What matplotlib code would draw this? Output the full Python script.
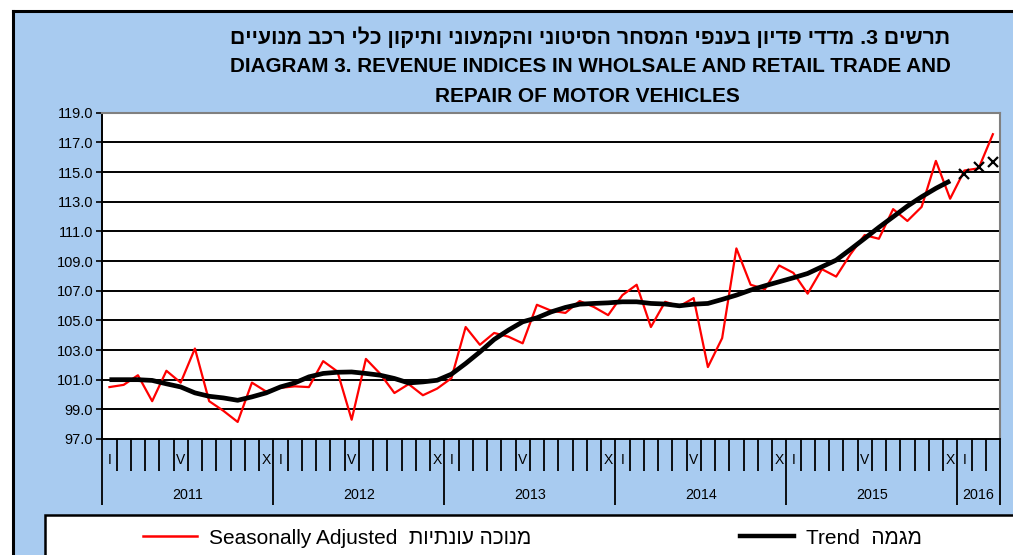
import matplotlib
matplotlib.use('Agg')
import matplotlib.pyplot as plt
import matplotlib.transforms as mtransforms
from matplotlib.patches import Rectangle
from matplotlib.lines import Line2D
import numpy as np

# ---------------- data ----------------
years = ['2011', '2012', '2013', '2014', '2015', '2016']
months_per_year = [12, 12, 12, 12, 12, 3]
month_marks = {0: 'I', 5: 'V', 11: 'X'}
y_ticks = [97, 99, 101, 103, 105, 107, 109, 111, 113, 115, 117, 119]

seasonally_adjusted = [
    100.5, 100.65, 101.3, 99.55, 101.6, 100.8, 103.1, 99.55, 98.9, 98.15, 100.8, 100.2,
    100.45, 100.55, 100.5, 102.25, 101.55, 98.3, 102.4, 101.4, 100.1, 100.7, 99.95, 100.4,
    101.1, 104.55, 103.35, 104.15, 103.9, 103.45, 106.05, 105.65, 105.5, 106.3, 105.9, 105.35,
    106.7, 107.4, 104.55, 106.25, 105.95, 106.5, 101.85, 103.8, 109.85, 107.4, 107.1, 108.7,
    108.2, 106.8, 108.45, 107.95, 109.45, 110.75, 110.5, 112.5, 111.7, 112.65, 115.75, 113.2,
    115.1, 115.25, 117.55,
]
trend = [
    101.0, 101.0, 101.0, 100.95, 100.72, 100.51, 100.11, 99.88, 99.77, 99.61, 99.84, 100.11,
    100.51, 100.78, 101.19, 101.42, 101.5, 101.52, 101.42, 101.3, 101.08, 100.78, 100.85, 100.96,
    101.37, 102.09, 102.87, 103.71, 104.34, 104.9, 105.17, 105.57, 105.87, 106.09, 106.14, 106.18,
    106.25, 106.25, 106.14, 106.1, 105.98, 106.09, 106.14, 106.41, 106.7, 107.04, 107.33, 107.6,
    107.87, 108.16, 108.61, 109.06, 109.78, 110.52, 111.27, 111.98, 112.7, 113.33, 113.9, 114.4,
]
trend_provisional = [114.84, 115.36, 115.65]

title_he = "תרשים 3. מדדי פדיון בענפי המסחר הסיטוני והקמעוני ותיקון כלי רכב מנועיים"
title_en1 = "DIAGRAM 3. REVENUE INDICES IN WHOLSALE AND RETAIL TRADE AND"
title_en2 = "REPAIR OF MOTOR VEHICLES"
label_sa = "Seasonally Adjusted  " + "מנוכה עונתיות"[::-1]
label_tr = "Trend  " + "מגמה"[::-1]

# ---------------- figure ----------------
W, H = 1013, 555
fig = plt.figure(figsize=(W / 100, H / 100), dpi=100, facecolor='white')
FAM = ['Liberation Sans', 'DejaVu Sans']
plt.rcParams['font.family'] = FAM

def fx(px):
    return px / W

def fy(py):
    return 1 - py / H

blue = '#A8CBF0'
fig.patches.append(Rectangle((fx(13), -0.1), 1.2, fy(11) + 0.1, transform=fig.transFigure,
                             facecolor=blue, edgecolor='none', zorder=0))
fig.lines.append(Line2D([fx(13), fx(13)], [-0.1, fy(11)], transform=fig.transFigure,
                        color='black', lw=2.2, zorder=1))
fig.lines.append(Line2D([fx(13), 1.1], [fy(11), fy(11)], transform=fig.transFigure,
                        color='black', lw=2.2, zorder=1))

# legend box
fig.patches.append(Rectangle((fx(45), -0.1), 1.2, fy(515) + 0.1, transform=fig.transFigure,
                             facecolor='white', edgecolor='black', lw=1.8, zorder=1))

# titles
cx = fx(590)
fig.text(cx, fy(37), title_he[::-1], ha='center', va='center', fontsize=15.3,
         fontweight='bold', family=FAM)
fig.text(cx, fy(67), title_en1, ha='center', va='center', fontsize=14.9,
         fontweight='bold', family=FAM)
fig.text(fx(587), fy(97), title_en2, ha='center', va='center', fontsize=15,
         fontweight='bold', family=FAM)

# axes
left, right, top, bottom = 102.3, 1000, 112.7, 439
ax = fig.add_axes([fx(left), fy(bottom), (right - left) / W, (bottom - top) / H])
ax.set_zorder(3)
ax.set_facecolor('white')

n = len(seasonally_adjusted)
x_all = np.arange(n)
ax.plot(x_all, seasonally_adjusted, color='#FF0000', lw=1.6, zorder=3)
ax.plot(np.arange(len(trend)), trend, color='black', lw=3.4, zorder=4,
        solid_capstyle='butt', solid_joinstyle='round')
ax.plot(np.arange(len(trend), len(trend) + len(trend_provisional)), trend_provisional,
        linestyle='none', marker='x', color='black', ms=7, mew=1.6, zorder=5)

ax.set_xlim(-0.5, n - 0.5)
ax.set_ylim(y_ticks[0], y_ticks[-1])
ax.set_yticks(y_ticks)
ax.set_yticklabels([f"{v:.1f}" for v in y_ticks], fontsize=10.5)
for v in y_ticks[1:-1]:
    ax.axhline(v, color='black', lw=1.4, zorder=2)

for s in ['top', 'right']:
    ax.spines[s].set_color('#808080')
    ax.spines[s].set_linewidth(1.5)
for s in ['left', 'bottom']:
    ax.spines[s].set_color('black')
    ax.spines[s].set_linewidth(1.4)

ax.tick_params(axis='y', direction='out', length=4, width=1.2, pad=2.5, colors='black')

# x axis: month boundaries (minor), year boundaries (major)
bounds = np.cumsum([0] + months_per_year) - 0.5
ax.set_xticks(bounds)
ax.set_xticklabels([])
ax.set_xticks(np.arange(n + 1) - 0.5, minor=True)
ax.tick_params(axis='x', which='major', direction='out', length=47.5, width=1.3, color='black')
ax.tick_params(axis='x', which='minor', direction='out', length=23, width=1.3, color='black')

trans = mtransforms.blended_transform_factory(ax.transData, ax.transAxes)
ah = bottom - top
start = 0
for yr, nm in zip(years, months_per_year):
    for m in range(nm):
        if m in month_marks:
            ax.text(start + m, -21 / ah, month_marks[m], transform=trans, ha='center',
                    va='center', fontsize=10)
    ax.text(start + (nm - 1) / 2, -56 / ah, yr, transform=trans, ha='center', va='center',
            fontsize=10.3)
    start += nm

# legend
h_sa = Line2D([], [], color='#FF0000', lw=1.8)
h_tr = Line2D([], [], color='black', lw=3.2)
fs = 15
for h, lab, xs in [(h_sa, label_sa, 143), (h_tr, label_tr, 740)]:
    lg = fig.legend([h], [lab], loc='center left', bbox_to_anchor=(fx(xs), fy(538)),
                    frameon=False, handlelength=54 / 21, handletextpad=0.6,
                    borderpad=0, borderaxespad=0, prop={'family': FAM, 'size': fs})

fig.savefig('out.png', dpi=100, facecolor='white')
